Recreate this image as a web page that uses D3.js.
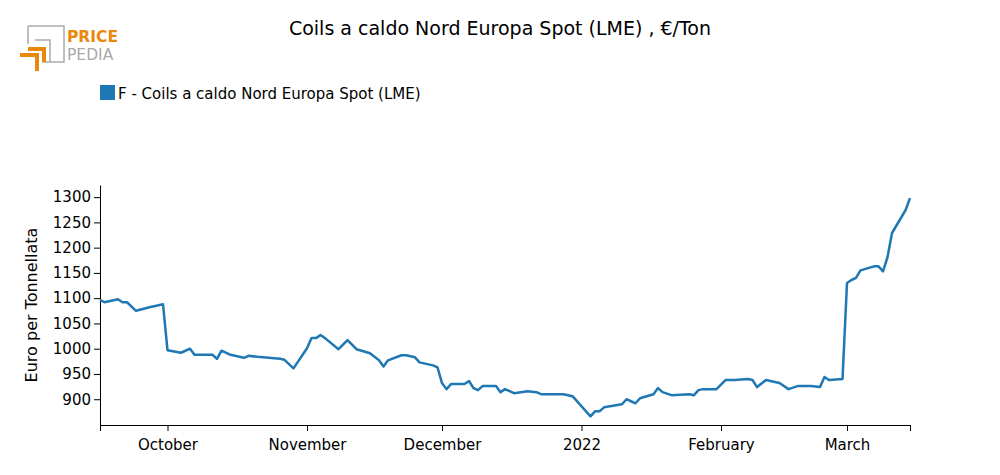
<!DOCTYPE html>
<html>
<head>
<meta charset="utf-8">
<script src="https://cdn.jsdelivr.net/npm/d3@7"></script>
<style>
body { margin: 0; background: #fff; }
text { font-family: "DejaVu Sans", sans-serif; }
</style>
</head>
<body>
<svg id="chart" width="1000" height="475"></svg>
<script>
(function(){
'use strict';

var seriesName = 'F - Coils a caldo Nord Europa Spot (LME)';
var dates = [
    '2021-09-16','2021-09-17','2021-09-20','2021-09-21','2021-09-22','2021-09-24','2021-09-27','2021-09-30',
    '2021-10-01','2021-10-04','2021-10-06','2021-10-07','2021-10-11','2021-10-12','2021-10-13','2021-10-15',
    '2021-10-18','2021-10-19','2021-10-21','2021-10-26','2021-10-27','2021-10-29',
    '2021-11-01','2021-11-02','2021-11-03','2021-11-04','2021-11-05','2021-11-08','2021-11-10','2021-11-12',
    '2021-11-15','2021-11-17','2021-11-18','2021-11-19','2021-11-22','2021-11-23','2021-11-25','2021-11-26',
    '2021-11-29','2021-11-30',
    '2021-12-01','2021-12-02','2021-12-03','2021-12-06','2021-12-07','2021-12-08','2021-12-09','2021-12-10',
    '2021-12-13','2021-12-14','2021-12-15','2021-12-17','2021-12-20','2021-12-22','2021-12-23','2021-12-28',
    '2021-12-30',
    '2022-01-03','2022-01-04','2022-01-05','2022-01-06','2022-01-10','2022-01-11','2022-01-12','2022-01-13',
    '2022-01-14','2022-01-17','2022-01-18','2022-01-19','2022-01-21','2022-01-25','2022-01-26','2022-01-27',
    '2022-01-28','2022-01-31',
    '2022-02-02','2022-02-03','2022-02-04','2022-02-07','2022-02-08','2022-02-09','2022-02-11','2022-02-14',
    '2022-02-16','2022-02-18','2022-02-21','2022-02-23','2022-02-24','2022-02-25','2022-02-28',
    '2022-03-01','2022-03-02','2022-03-03','2022-03-04','2022-03-07','2022-03-08','2022-03-09','2022-03-10',
    '2022-03-11','2022-03-14','2022-03-15'
];
var values = [
    1096, 1092, 1098, 1092, 1092, 1075, 1082, 1088,
    997, 992, 1000, 988, 988, 980, 996, 988,
    982, 986, 984, 980, 978, 961,
    1001, 1021, 1021, 1027, 1021, 999, 1017, 999,
    991, 977, 965, 977, 987, 987, 983, 973,
    967, 963,
    932, 920, 930, 930, 936, 922, 918, 926,
    926, 914, 920, 912, 916, 914, 910, 910,
    906,
    866, 876, 876, 884, 890, 900, 896, 892,
    902, 910, 922, 914, 908, 910, 908, 918,
    920, 920,
    938, 938, 938, 940, 938, 924, 938, 932,
    920, 926, 926, 924, 944, 938, 940,
    1130, 1136, 1140, 1155, 1163, 1163, 1153, 1181,
    1229, 1274, 1298
];
var yTicks = [900, 950, 1000, 1050, 1100, 1150, 1200, 1250, 1300];
var yDomain = [849, 1324];
var xDomain = ['2021-09-16', '2022-03-15'];

var parse = d3.timeParse('%Y-%m-%d');
var data = dates.map(function(d, i){ return {date: parse(d), value: values[i]}; });

var svg = d3.select('#chart');
var color = '#1f77b4';

var x = d3.scaleTime().domain(xDomain.map(parse)).range([100, 910]);
var y = d3.scaleLinear().domain(yDomain).range([425, 185]);

// title
svg.append('text').attr('x', 500).attr('y', 35).attr('text-anchor', 'middle')
    .attr('font-size', 19).text('Coils a caldo Nord Europa Spot (LME) , €/Ton');

// logo
var logo = svg.append('g');
logo.append('path').attr('d', 'M28,26 H64 V62 H42').attr('fill', 'none').attr('stroke', '#aaa').attr('stroke-width', 1.5);
logo.append('path').attr('d', 'M28,26 V44').attr('fill', 'none').attr('stroke', '#aaa').attr('stroke-width', 1.5);
logo.append('path').attr('d', 'M35,40 H50 V62').attr('fill', 'none').attr('stroke', '#aaa').attr('stroke-width', 1.5);
logo.append('path').attr('d', 'M20,55 H37 V71 M28,49 H44 V62').attr('fill', 'none').attr('stroke', '#e8890c').attr('stroke-width', 4);
logo.append('text').attr('x', 67).attr('y', 42).attr('font-size', 15.5).attr('font-weight', 'bold')
    .attr('fill', '#e8890c').text('PRICE');
logo.append('text').attr('x', 67).attr('y', 60).attr('font-size', 15.5).attr('fill', '#aaa').text('PEDIA');

// legend
svg.append('rect').attr('x', 100).attr('y', 85).attr('width', 15).attr('height', 15).attr('fill', color);
svg.append('text').attr('x', 118).attr('y', 99).attr('font-size', 15).text(seriesName);

// axes
var xTicks = [x.domain()[0]].concat(d3.timeMonth.range(x.domain()[0], x.domain()[1])).concat([x.domain()[1]]);
var fmt = function(d){
    if (+d === +x.domain()[0] || +d === +x.domain()[1]) { return ''; }
    return d.getMonth() === 0 ? d3.timeFormat('%Y')(d) : d3.timeFormat('%B')(d);
};
var xAxis = svg.append('g').attr('transform', 'translate(0,425)')
    .call(d3.axisBottom(x).tickValues(xTicks).tickFormat(fmt).tickSizeOuter(0));
var yAxis = svg.append('g').attr('transform', 'translate(100,0)')
    .call(d3.axisLeft(y).tickValues(yTicks).tickFormat(d3.format('d')).tickSizeOuter(0));
[xAxis, yAxis].forEach(function(a){
    a.selectAll('text').attr('font-family', 'DejaVu Sans, sans-serif').attr('font-size', 15).attr('fill', '#000');
    a.selectAll('line, path').attr('stroke', '#000');
});
xAxis.selectAll('text').attr('dy', '1.05em');

svg.append('text').attr('transform', 'translate(37,305) rotate(-90)').attr('text-anchor', 'middle')
    .attr('font-size', 16).text('Euro per Tonnellata');

// line
var line = d3.line().x(function(d){ return x(d.date); }).y(function(d){ return y(d.value); });
svg.append('path').datum(data).attr('d', line).attr('fill', 'none')
    .attr('stroke', color).attr('stroke-width', 2.5).attr('stroke-linejoin', 'round');

})();
</script>
</body>
</html>
